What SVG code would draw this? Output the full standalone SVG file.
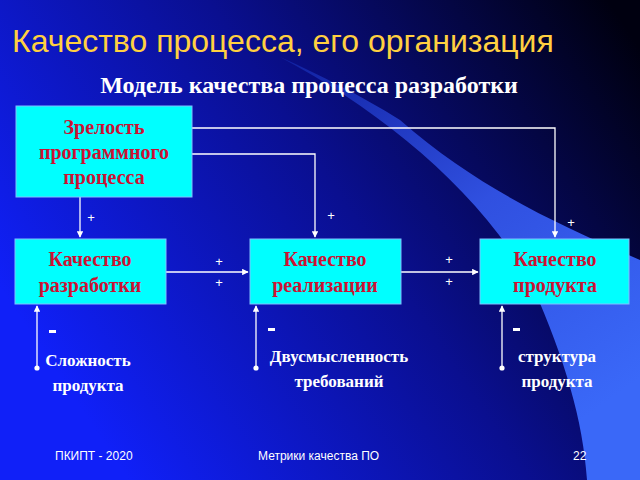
<svg xmlns="http://www.w3.org/2000/svg" width="640" height="480" viewBox="0 0 640 480">
<defs>
<linearGradient id="bg" x1="0" y1="0.6" x2="1" y2="0.1">
<stop offset="0" stop-color="#1020f8"/><stop offset="0.5" stop-color="#0a0f90"/><stop offset="1" stop-color="#000010"/>
</linearGradient>
<linearGradient id="sw" x1="0" y1="0" x2="0.6" y2="1">
<stop offset="0" stop-color="#1020a0"/><stop offset="0.5" stop-color="#3050e0"/><stop offset="1" stop-color="#3a68f8"/>
</linearGradient>
<marker id="ah" viewBox="0 0 10 10" refX="9" refY="5" markerWidth="5" markerHeight="5" orient="auto"><path d="M0,0L10,5L0,10z" fill="#fff"/></marker>
<marker id="dot" viewBox="0 0 10 10" refX="5" refY="5" markerWidth="5" markerHeight="5"><circle cx="5" cy="5" r="4" fill="#fff"/></marker>
</defs>
<style>
.box{fill:#00ffff;stroke:#80c0ff;stroke-width:1}
.bt{font-family:"Liberation Serif",serif;font-weight:bold;font-size:20px;fill:#cc1133;text-anchor:middle}
.w{font-family:"Liberation Serif",serif;font-weight:bold;font-size:17px;fill:#fff;text-anchor:middle}
.p{font-family:"Liberation Sans",sans-serif;font-size:13px;fill:#fff;text-anchor:middle}
.c{fill:none;stroke:#fff;stroke-width:1.3}
.f{font-family:"Liberation Sans",sans-serif;font-size:12px;fill:#fff}
</style>
<rect width="640" height="480" fill="url(#bg)"/>
<path d="M280,57 C380,110 480,190 533,287 C565,360 583,420 587,480 L640,480 L640,260 C560,225 480,190 400,120 C360,95 320,75 280,57 Z" fill="url(#sw)"/>
<text x="12" y="52" font-family="Liberation Sans,sans-serif" font-size="32" fill="#ffd040">Качество процесса, его организация</text>
<text x="309" y="93" font-family="Liberation Serif,serif" font-weight="bold" font-size="24" fill="#fff" text-anchor="middle">Модель качества процесса разработки</text>
<g id="connectors">
<path class="c" d="M80,197V237" marker-end="url(#ah)"/>
<path class="c" d="M192,128H555V237" marker-end="url(#ah)"/>
<path class="c" d="M192,154H315V237" marker-end="url(#ah)"/>
<path class="c" d="M166,272H248" marker-end="url(#ah)"/>
<path class="c" d="M401,272H478" marker-end="url(#ah)"/>
<path class="c" d="M37,368V306" marker-start="url(#dot)" marker-end="url(#ah)"/>
<path class="c" d="M256,368V306" marker-start="url(#dot)" marker-end="url(#ah)"/>
<path class="c" d="M502,368V306" marker-start="url(#dot)" marker-end="url(#ah)"/>
<text class="p" x="91" y="222">+</text>
<text class="p" x="331" y="220">+</text>
<text class="p" x="571" y="227">+</text>
<text class="p" x="219" y="266">+</text>
<text class="p" x="219" y="287">+</text>
<text class="p" x="449" y="264">+</text>
<text class="p" x="449" y="286">+</text>
<rect x="49" y="330" width="7" height="3" fill="#fff"/>
<rect x="268" y="328" width="7" height="3" fill="#fff"/>
<rect x="513" y="328" width="7" height="3" fill="#fff"/>
</g>
<g id="n1"><rect class="box" x="16" y="106" width="176" height="91"/>
<text class="bt" x="104" y="134">Зрелость</text><text class="bt" x="104" y="159">программного</text><text class="bt" x="104" y="184">процесса</text></g>
<g id="n2"><rect class="box" x="15" y="239" width="151" height="65"/>
<text class="bt" x="90" y="266">Качество</text><text class="bt" x="90" y="292">разработки</text></g>
<g id="n3"><rect class="box" x="250" y="239" width="151" height="65"/>
<text class="bt" x="325" y="266">Качество</text><text class="bt" x="325" y="292">реализации</text></g>
<g id="n4"><rect class="box" x="480" y="239" width="149" height="65"/>
<text class="bt" x="555" y="266">Качество</text><text class="bt" x="555" y="292">продукта</text></g>
<g id="n5"><text class="w" x="88" y="366">Сложность</text><text class="w" x="88" y="391">продукта</text></g>
<g id="n6"><text class="w" x="339" y="362">Двусмысленность</text><text class="w" x="339" y="387">требований</text></g>
<g id="n7"><text class="w" x="557" y="362">структура</text><text class="w" x="557" y="387">продукта</text></g>
<text class="f" x="55" y="460">ПКИПТ - 2020</text>
<text class="f" x="258" y="460">Метрики  качества ПО</text>
<text class="f" x="573" y="460">22</text>
</svg>
